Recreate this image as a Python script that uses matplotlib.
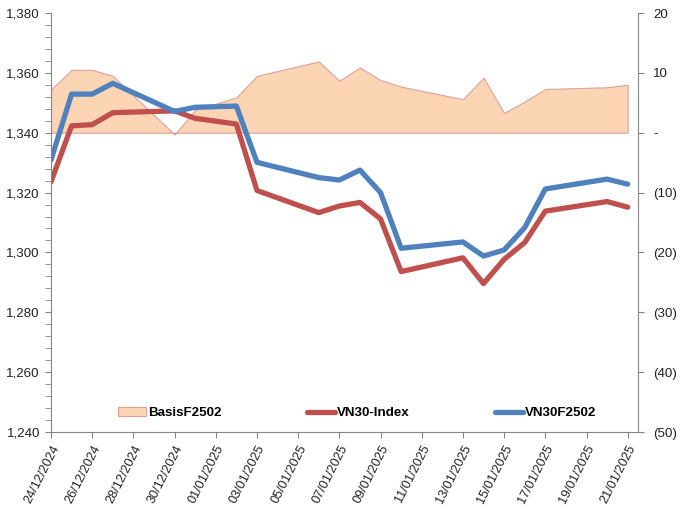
import numpy as np
import pandas as pd
import matplotlib
matplotlib.use('Agg')
import matplotlib.pyplot as plt
import matplotlib.dates as mdates
from matplotlib.ticker import FuncFormatter, MultipleLocator

plt.rcParams['font.family'] = ['Liberation Sans', 'DejaVu Sans']

# --- Datos ---------------------------------------------------------------------
dates = pd.to_datetime([
    '2024-12-24', '2024-12-25', '2024-12-26', '2024-12-27', '2024-12-30',
    '2024-12-31', '2025-01-02', '2025-01-03', '2025-01-06', '2025-01-07',
    '2025-01-08', '2025-01-09', '2025-01-10', '2025-01-13', '2025-01-14',
    '2025-01-15', '2025-01-16', '2025-01-17', '2025-01-20', '2025-01-21'])
vn30_index = [1323.6, 1342.3, 1342.7, 1346.7, 1347.3, 1344.8, 1342.9, 1320.7,
              1313.3, 1315.5, 1316.7, 1311.2, 1293.6, 1298.2, 1289.6, 1297.7,
              1303.3, 1313.8, 1317.0, 1315.1]
vn30f2502 = [1330.9, 1352.9, 1352.9, 1356.5, 1347.1, 1348.5, 1348.9, 1330.1,
             1325.0, 1324.2, 1327.5, 1320.0, 1301.4, 1303.5, 1298.8, 1300.8,
             1308.3, 1321.2, 1324.5, 1322.8]
basis = [7.2, 10.5, 10.5, 9.5, -0.3, 3.8, 5.9, 9.5, 11.9, 8.7, 10.9, 8.8, 7.7,
         5.6, 9.2, 3.3, 5.2, 7.3, 7.6, 8.0]

tick_dates = pd.date_range('2024-12-24', '2025-01-21', freq='2D')

# --- Figura --------------------------------------------------------------------
fig = plt.figure(figsize=(6.83, 5.08), dpi=100)
ax = fig.add_axes([51/683, 1-432/508, (638-51)/683, (432-13)/508])
ax2 = ax.twinx()

# area de basis (eje derecho), detras de las lineas
ax2.fill_between(dates, 0, basis, facecolor='#FCD5B5', edgecolor='#E0A09A',
                 linewidth=0.8, label='BasisF2502')
ax.plot(dates, vn30_index, color='#C0504D', lw=3.8, solid_capstyle='round',
        label='VN30-Index')
ax.plot(dates, vn30f2502, color='#4F81BD', lw=3.8, solid_capstyle='round',
        label='VN30F2502')
ax.set_zorder(ax2.get_zorder() + 1)
ax.patch.set_visible(False)

# ejes
ax.set_xlim(mdates.date2num(pd.Timestamp('2024-12-24')),
            mdates.date2num(pd.Timestamp('2025-01-21')) + 0.5)
ax.set_ylim(1240, 1380)
ax2.set_ylim(-50, 20)

grey = '#868686'
for a in (ax, ax2):
    a.spines['top'].set_visible(False)
    for s in ('left', 'right', 'bottom'):
        a.spines[s].set_color(grey)
ax.spines['right'].set_visible(False)
ax2.spines['left'].set_visible(False)
ax2.spines['bottom'].set_visible(False)

ax.set_xticks(tick_dates)
ax.xaxis.set_major_formatter(mdates.DateFormatter('%d/%m/%Y'))
plt.setp(ax.get_xticklabels(), rotation=63, ha='right', rotation_mode='anchor')

ax.yaxis.set_major_locator(MultipleLocator(20))
ax.yaxis.set_minor_locator(MultipleLocator(4))
ax.yaxis.set_major_formatter(FuncFormatter(lambda v, p: f'{v:,.0f}'))
ax2.yaxis.set_major_locator(MultipleLocator(10))

def fmt_basis(v, p):
    if abs(v) < 1e-9:
        return '-'
    if v < 0:
        return f'({abs(v):.0f})'
    return f'{v:.0f}'
ax2.yaxis.set_major_formatter(FuncFormatter(fmt_basis))

ax.tick_params(axis='x', colors=grey, labelcolor='#222222', labelsize=9.2,
               length=4, pad=4)
ax.tick_params(axis='y', which='both', colors=grey, labelcolor='#222222',
               labelsize=9.6, length=4, pad=4)
ax2.tick_params(axis='y', colors=grey, labelcolor='#222222', labelsize=9.6,
                length=4, pad=7)

# leyenda
h1, l1 = ax2.get_legend_handles_labels()
h2, l2 = ax.get_legend_handles_labels()
ax.legend(h1 + h2, l1 + l2, ncol=3, loc='center', bbox_to_anchor=(0.522, 0.045),
          frameon=False, columnspacing=6.4, handlelength=2.1, handletextpad=0.15,
          prop={'weight': 'bold', 'size': 9.6})

fig.savefig('out.png', dpi=100)
